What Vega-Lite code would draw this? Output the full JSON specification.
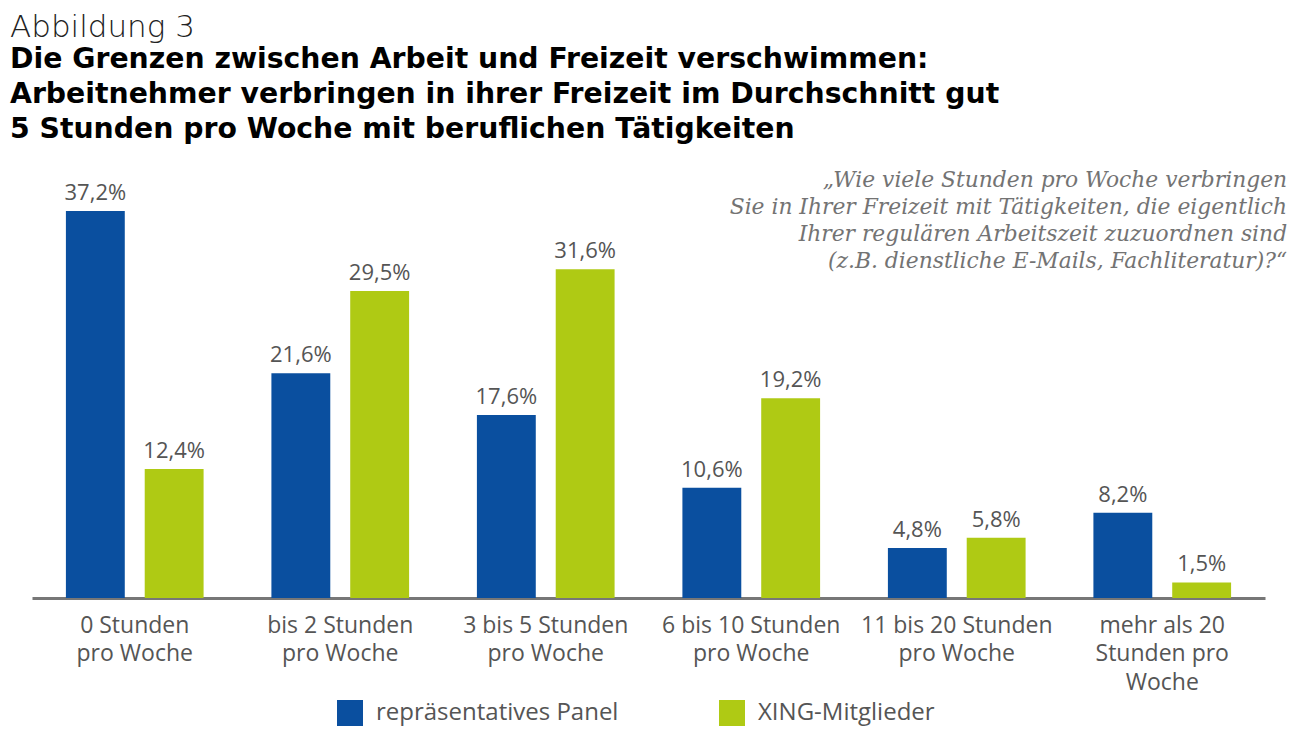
{
  "$schema": "https://vega.github.io/schema/vega-lite/v6.json",
  "width": 1233,
  "height": 437,
  "autosize": {"type": "none"},
  "padding": {"left": 32, "top": 161, "right": 37, "bottom": 139},
  "background": "white",
  "title": {
    "text": "Abbildung 3",
    "subtitle": ["Die Grenzen zwischen Arbeit und Freizeit verschwimmen:", "Arbeitnehmer verbringen in ihrer Freizeit im Durchschnitt gut", "5 Stunden pro Woche mit beruflichen Tätigkeiten"],
    "anchor": "start",
    "frame": "group",
    "dx": -22,
    "offset": 17,
    "font": "DejaVu Sans",
    "fontSize": 31,
    "fontWeight": 300,
    "color": "#222222",
    "subtitleFont": "DejaVu Sans",
    "subtitleFontSize": 28.3,
    "subtitleFontWeight": "bold",
    "subtitleColor": "#000000",
    "subtitleLineHeight": 35,
    "subtitlePadding": 2
  },
  "data": {
    "values": [
      {"kategorie": "0 Stunden\npro Woche", "gruppe": "repräsentatives Panel", "anteil": 0.372},
      {"kategorie": "0 Stunden\npro Woche", "gruppe": "XING-Mitglieder", "anteil": 0.124},
      {"kategorie": "bis 2 Stunden\npro Woche", "gruppe": "repräsentatives Panel", "anteil": 0.216},
      {"kategorie": "bis 2 Stunden\npro Woche", "gruppe": "XING-Mitglieder", "anteil": 0.295},
      {"kategorie": "3 bis 5 Stunden\npro Woche", "gruppe": "repräsentatives Panel", "anteil": 0.176},
      {"kategorie": "3 bis 5 Stunden\npro Woche", "gruppe": "XING-Mitglieder", "anteil": 0.316},
      {"kategorie": "6 bis 10 Stunden\npro Woche", "gruppe": "repräsentatives Panel", "anteil": 0.106},
      {"kategorie": "6 bis 10 Stunden\npro Woche", "gruppe": "XING-Mitglieder", "anteil": 0.192},
      {"kategorie": "11 bis 20 Stunden\npro Woche", "gruppe": "repräsentatives Panel", "anteil": 0.048},
      {"kategorie": "11 bis 20 Stunden\npro Woche", "gruppe": "XING-Mitglieder", "anteil": 0.058},
      {"kategorie": "mehr als 20\nStunden pro\nWoche", "gruppe": "repräsentatives Panel", "anteil": 0.082},
      {"kategorie": "mehr als 20\nStunden pro\nWoche", "gruppe": "XING-Mitglieder", "anteil": 0.015}
    ]
  },
  "layer": [
    {
      "mark": {"type": "bar"},
      "encoding": {
        "x": {
          "field": "kategorie",
          "type": "nominal",
          "sort": null,
          "scale": {"paddingInner": 0.33, "paddingOuter": 0.165},
          "axis": {
            "title": null,
            "labelAngle": 0,
            "labelExpr": "split(datum.label, '\\n')",
            "labelFont": "Open Sans",
            "labelFontSize": 23,
            "labelColor": "#555555",
            "labelPadding": 16,
            "labelLineHeight": 28.5,
            "labelBaseline": "top",
            "labelLimit": 300,
            "ticks": false,
            "domainColor": "#777777",
            "domainWidth": 3,
            "grid": false
          }
        },
        "y": {
          "field": "anteil",
          "type": "quantitative",
          "scale": {"domain": [0, 0.42], "nice": false, "zero": true},
          "axis": null
        },
        "xOffset": {
          "field": "gruppe",
          "type": "nominal",
          "sort": ["repräsentatives Panel", "XING-Mitglieder"],
          "scale": {"paddingInner": 0.253, "paddingOuter": 0}
        },
        "color": {
          "field": "gruppe",
          "type": "nominal",
          "sort": ["repräsentatives Panel", "XING-Mitglieder"],
          "scale": {"domain": ["repräsentatives Panel", "XING-Mitglieder"], "range": ["#0a4f9f", "#afca14"]},
          "legend": {
            "title": null,
            "orient": "none",
            "legendX": 305,
            "legendY": 539,
            "direction": "horizontal",
            "symbolType": "square",
            "symbolSize": 676,
            "symbolStrokeWidth": 0,
            "labelFont": "Open Sans",
            "labelFontSize": 24,
            "labelColor": "#555555",
            "labelOffset": 13,
            "columnPadding": 100,
            "labelLimit": 400
          }
        }
      }
    },
    {
      "mark": {"type": "text", "baseline": "alphabetic", "dy": -11, "font": "Open Sans", "fontSize": 22, "color": "#555555"},
      "encoding": {
        "x": {"field": "kategorie", "type": "nominal", "sort": null},
        "y": {"field": "anteil", "type": "quantitative"},
        "xOffset": {
          "field": "gruppe",
          "type": "nominal",
          "sort": ["repräsentatives Panel", "XING-Mitglieder"]
        },
        "text": {"field": "anteil", "type": "quantitative", "format": ".1%"}
      }
    },
    {
      "data": {"values": [{"kategorie": "mehr als 20\nStunden pro\nWoche", "anteil": 0.395, "frage": "„Wie viele Stunden pro Woche verbringen\nSie in Ihrer Freizeit mit Tätigkeiten, die eigentlich\nIhrer regulären Arbeitszeit zuzuordnen sind\n(z.B. dienstliche E-Mails, Fachliteratur)?“"}]},
      "mark": {"type": "text", "align": "right", "baseline": "alphabetic", "lineBreak": "\n", "lineHeight": 27, "dx": 56, "font": "DejaVu Serif", "fontStyle": "italic", "fontSize": 21.8, "color": "#737373"},
      "encoding": {
        "x": {"field": "kategorie", "type": "nominal", "sort": null, "bandPosition": 1},
        "y": {"field": "anteil", "type": "quantitative"},
        "text": {"field": "frage", "type": "nominal"}
      }
    }
  ],
  "config": {
    "view": {"stroke": null},
    "locale": {"number": {"decimal": ",", "thousands": ".", "grouping": [3], "currency": ["", " €"]}}
  }
}
